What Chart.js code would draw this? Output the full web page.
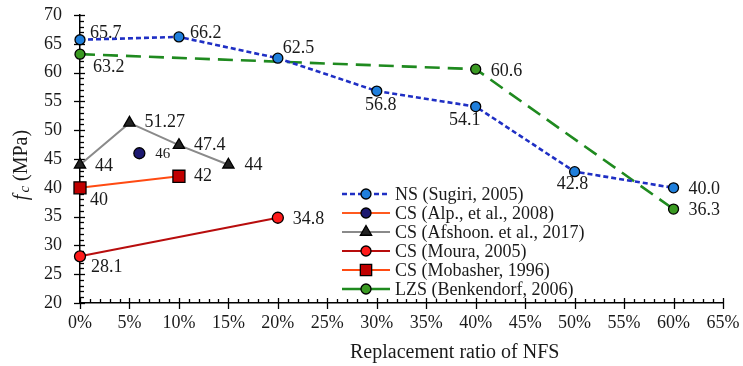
<!DOCTYPE html>
<html><head><meta charset="utf-8">
<script src="https://cdn.jsdelivr.net/npm/chart.js@4"></script>
<style>html,body{margin:0;padding:0;background:#fff}</style>
</head><body>
<canvas id="c" width="743" height="366"></canvas>
<script>
// ---- data ----
const xTickValues = [0,5,10,15,20,25,30,35,40,45,50,55,60,65];
const yTickValues = [20,25,30,35,40,45,50,55,60,65,70];
const seriesNames = ["NS (Sugiri, 2005)","CS (Alp., et al., 2008)","CS (Afshoon. et al., 2017)","CS (Moura, 2005)","CS (Mobasher, 1996)","LZS (Benkendorf, 2006)"];
const nsX = [0,10,20,30,40,50,60];
const nsY = [65.7,66.2,62.5,56.8,54.1,42.8,40.0];
const alpX = [6];
const alpY = [46];
const afsX = [0,5,10,15];
const afsY = [44,51.27,47.4,44];
const mouX = [0,20];
const mouY = [28.1,34.8];
const mobX = [0,10];
const mobY = [40,42];
const lzsX = [0,40,60];
const lzsY = [63.2,60.6,36.3];

// ---- label placement (style) ----
const nsLabelPos  = [[10,-7,'left'],[11,-4,'left'],[5,-10,'left'],[4,14,'center'],[-11,14,'center'],[-2,13,'center'],[15,1,'left']];
const alpLabelPos = [[16,1,'left']];
const afsLabelPos = [[15,2,'left'],[15,-1,'left'],[15,0,'left'],[16,1,'left']];
const mouLabelPos = [[11,11,'left'],[15,2,'left']];
const mobLabelPos = [[10,12,'left'],[15,0,'left']];
const lzsLabelPos = [[13,13,'left'],[15,2,'left'],[15,1,'left']];

const SERIF = "'Liberation Serif','Times New Roman',serif";
const pts = (xs, ys) => xs.map((x,i)=>({x:x, y:ys[i]}));

const styles = [
  {line:'#1f2fc4', dash:[5,3], width:2.6, fill:'#1f7fdc', style:'circle', r:5, legendDash:[5,3]},
  {line:'#ff5a1f', dash:[], width:2, fill:'#1c1870', style:'circle', r:5.5, legendDash:[]},
  {line:'#8a8a8a', dash:[], width:2, fill:'#222222', style:'triangle', r:6.5, legendDash:[]},
  {line:'#b80d0d', dash:[], width:2, fill:'#ff1a1a', style:'circle', r:5.5, legendDash:[]},
  {line:'#ff4a12', dash:[], width:2, fill:'#c00000', style:'rect', r:8.5, legendDash:[]},
  {line:'#1f8a1f', dash:[15,8], width:2.6, fill:'#3a9a22', style:'circle', r:5, legendDash:[]}
];
const dataSets = [
  {xs:nsX, ys:nsY, labels:nsY.map(v=>v.toFixed(1)), pos:nsLabelPos, fs:18},
  {xs:alpX, ys:alpY, labels:alpY.map(String), pos:alpLabelPos, fs:15},
  {xs:afsX, ys:afsY, labels:afsY.map(String), pos:afsLabelPos, fs:18},
  {xs:mouX, ys:mouY, labels:mouY.map(String), pos:mouLabelPos, fs:18},
  {xs:mobX, ys:mobY, labels:mobY.map(String), pos:mobLabelPos, fs:18},
  {xs:lzsX, ys:lzsY, labels:lzsY.map(v=>v.toFixed(1)), pos:lzsLabelPos, fs:18}
];

const datasets = dataSets.map((d,i)=>({
  label: seriesNames[i],
  data: pts(d.xs, d.ys),
  borderColor: styles[i].line,
  borderWidth: styles[i].width,
  borderDash: styles[i].dash,
  backgroundColor: styles[i].fill,
  pointBackgroundColor: styles[i].fill,
  pointBorderColor: '#000',
  pointBorderWidth: 1.3,
  pointRadius: styles[i].r,
  pointStyle: styles[i].style,
  tension: 0,
  fill: false,
  clip: false,
  _labels: d.labels, _pos: d.pos, _fs: d.fs
}));

function drawMarker(ctx, st, x, y){
  ctx.save();
  ctx.fillStyle = st.fill; ctx.strokeStyle = '#000'; ctx.lineWidth = 1.3; ctx.setLineDash([]);
  ctx.beginPath();
  const r = st.r;
  if (st.style==='circle'){ ctx.arc(x,y,r,0,Math.PI*2); }
  else if (st.style==='rect'){ const s=Math.SQRT1_2*r; ctx.rect(x-s,y-s,2*s,2*s); }
  else if (st.style==='triangle'){
    ctx.moveTo(x, y-r); ctx.lineTo(x+r*Math.sin(Math.PI*2/3), y-r*Math.cos(Math.PI*2/3));
    ctx.lineTo(x-r*Math.sin(Math.PI*2/3), y-r*Math.cos(Math.PI*2/3)); ctx.closePath();
  }
  ctx.fill(); ctx.stroke(); ctx.restore();
}

const axisTicks = {
  id:'axisTicks',
  beforeDatasetsDraw(chart){
    const ctx = chart.ctx;
    const xs = chart.scales.x, ys = chart.scales.y;
    ctx.save();
    ctx.strokeStyle = '#000'; ctx.lineWidth = 1.3;
    const y0 = ys.getPixelForValue(20), xL = xs.getPixelForValue(0);
    for (let v=0; v<=65; v+=1){
      const px = Math.round(xs.getPixelForValue(v))+0.5;
      ctx.beginPath();
      if (v%5===0){ ctx.moveTo(px,y0-5); ctx.lineTo(px,y0+6); }
      else { ctx.moveTo(px,y0-4); ctx.lineTo(px,y0); }
      ctx.stroke();
    }
    for (let v=20; v<=70; v+=1){
      const py = Math.round(ys.getPixelForValue(v))+0.5;
      ctx.beginPath();
      if (v%5===0){ ctx.moveTo(xL-6,py); ctx.lineTo(xL+5,py); }
      else { ctx.moveTo(xL,py); ctx.lineTo(xL+4,py); }
      ctx.stroke();
    }
    ctx.restore();
  }
};

const decor = {
  id:'decor',
  afterDatasetsDraw(chart){
    const ctx = chart.ctx;
    ctx.save();
    // data labels
    ctx.fillStyle = '#1a1a1a'; ctx.textBaseline = 'middle';
    chart.data.datasets.forEach((ds,di)=>{
      const meta = chart.getDatasetMeta(di);
      ctx.font = ds._fs + 'px ' + SERIF;
      meta.data.forEach((el,i)=>{
        const p = ds._pos[i];
        ctx.textAlign = p[2];
        ctx.fillText(ds._labels[i], el.x + p[0], el.y + p[1]);
      });
    });
    // legend
    const lx0 = 342, lx1 = 390, tx = 395, ly = 194, step = 19;
    ctx.font = '18px ' + SERIF; ctx.textAlign = 'left'; ctx.textBaseline = 'middle';
    styles.forEach((st,i)=>{
      const y = ly + i*step;
      ctx.save();
      ctx.strokeStyle = st.line; ctx.lineWidth = st.width; ctx.setLineDash(st.legendDash);
      ctx.beginPath(); ctx.moveTo(lx0,y); ctx.lineTo(lx1,y); ctx.stroke();
      ctx.restore();
      drawMarker(ctx, Object.assign({}, st, {r: st.style==='rect'? 8 : st.style==='triangle'? 6.5 : 5}), (lx0+lx1)/2, y);
      ctx.fillStyle = '#1a1a1a';
      ctx.fillText(seriesNames[i], tx, y+1);
    });
    // x title
    ctx.font = '20px ' + SERIF; ctx.textAlign = 'left'; ctx.fillStyle = '#1a1a1a';
    ctx.fillText('Replacement ratio of NFS', 350, 353);
    // y title
    ctx.save();
    ctx.translate(21, 165); ctx.rotate(-Math.PI/2);
    const fF = 'italic 20px ' + SERIF, cF = 'italic 15px ' + SERIF, mF = '20px ' + SERIF;
    ctx.font = fF; const w1 = ctx.measureText('f').width + 2;
    ctx.font = cF; const w2 = ctx.measureText('c').width;
    ctx.font = mF; const w3 = ctx.measureText(' (MPa)').width;
    let sx = -(w1+w2+w3)/2;
    ctx.textAlign = 'left'; ctx.textBaseline = 'alphabetic';
    ctx.font = fF; ctx.fillText('f', sx, 6); sx += w1;
    ctx.font = cF; ctx.fillText('c', sx, 8); sx += w2;
    ctx.font = mF; ctx.fillText(' (MPa)', sx, 6);
    ctx.restore();
    ctx.restore();
  }
};

new Chart(document.getElementById('c'), {
  type:'line',
  data:{ datasets },
  options:{
    responsive:false, animation:false, devicePixelRatio:1,
    layout:{ padding:{ top:15, right:20, left:0, bottom:0 } },
    plugins:{ legend:{display:false}, tooltip:{enabled:false} },
    scales:{
      x:{ type:'linear', min:0, max:65,
          afterBuildTicks(s){ s.ticks = xTickValues.map(v=>({value:v})); },
          ticks:{ callback:v=>v+'%', font:{family:SERIF, size:18}, color:'#1a1a1a', padding:9, maxRotation:0, autoSkip:false },
          grid:{ display:false, drawTicks:false },
          border:{ display:true, color:'#000', width:1.5 },
          afterFit(s){ s.height = 63; s.paddingLeft = 0; s.paddingRight = 0; } },
      y:{ min:20, max:70,
          afterBuildTicks(s){ s.ticks = yTickValues.map(v=>({value:v})); },
          ticks:{ font:{family:SERIF, size:18}, color:'#1a1a1a', padding:18 },
          grid:{ display:false, drawTicks:false },
          border:{ display:true, color:'#000', width:1.5 },
          afterFit(s){ s.width = 80; s.paddingTop = 0; s.paddingBottom = 0; } }
    }
  },
  plugins:[axisTicks, decor]
});
</script>
</body></html>
